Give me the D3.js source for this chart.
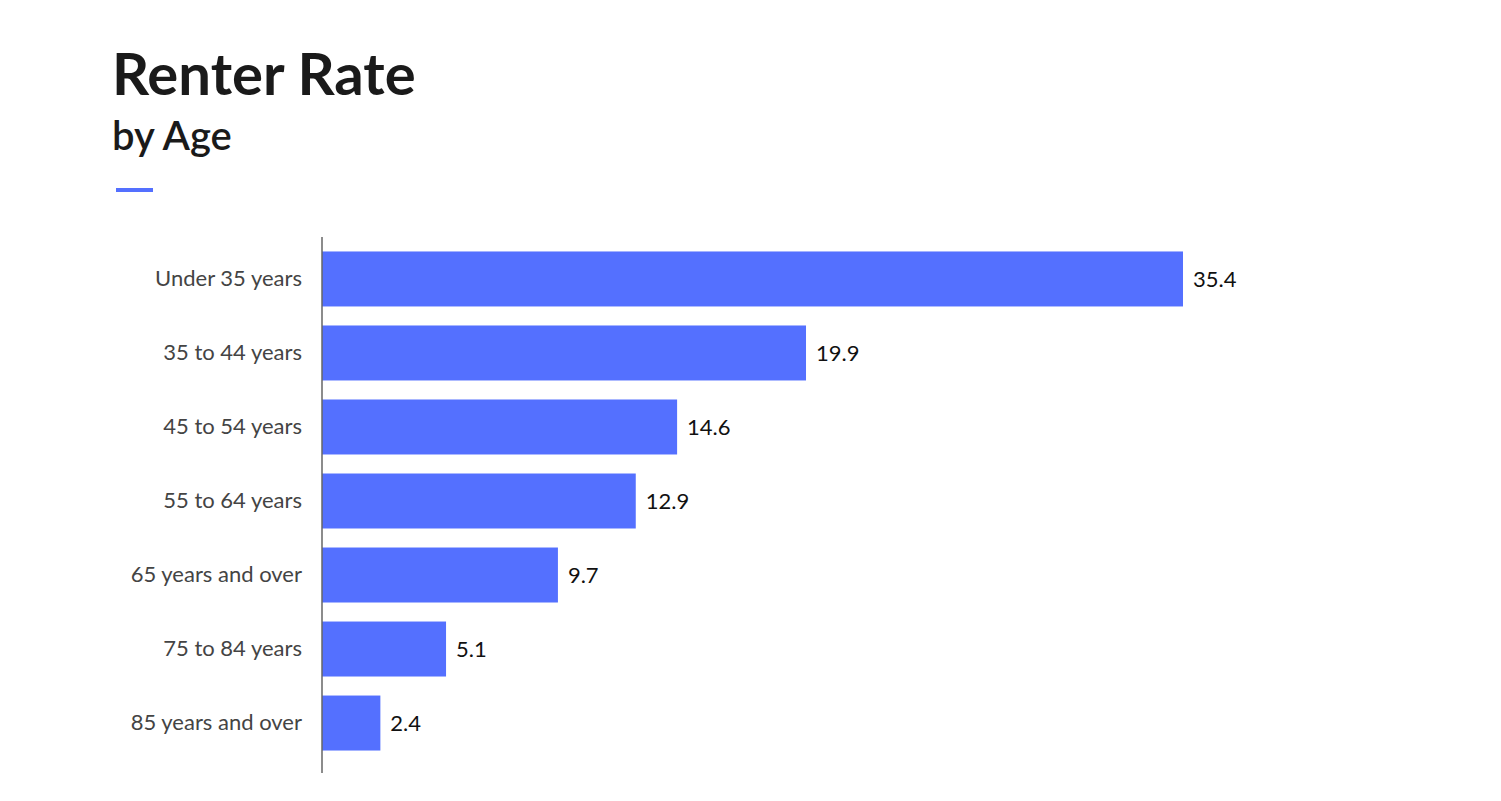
<!DOCTYPE html>
<html><head><meta charset="utf-8">
<script src="https://cdn.jsdelivr.net/npm/d3@7"></script>
<style>body{margin:0;background:#fff;font-family:Lato,sans-serif;}</style>
</head><body><div id="content"></div>
<script>
var categories = ['Under 35 years', '35 to 44 years', '45 to 54 years', '55 to 64 years',
                  '65 years and over', '75 to 84 years', '85 years and over'];
var values = [35.4, 19.9, 14.6, 12.9, 9.7, 5.1, 2.4];

var svg = d3.select('#content').append('svg').attr('width', 1501).attr('height', 801);

svg.append('text').attr('x', 112).attr('y', 95)
    .style('font-size', '58px').style('font-weight', 700).style('fill', '#1a1a1a')
    .text('Renter Rate');
svg.append('text').attr('x', 112).attr('y', 150)
    .style('font-size', '40px').style('font-weight', 600).style('fill', '#1a1a1a')
    .text('by Age');
svg.append('rect').attr('x', 116).attr('y', 188).attr('width', 37).attr('height', 4)
    .attr('fill', '#5470ff');

var x = d3.scaleLinear().domain([0, 35.4]).range([322, 1183]);
var y = d3.scaleBand().domain(categories).range([242, 760])
    .paddingInner(0.257).paddingOuter(0.128);

svg.selectAll('.bar').data(values).enter().append('rect')
    .attr('class', 'bar')
    .attr('x', x(0)).attr('y', function(d, i) { return y(categories[i]); })
    .attr('width', function(d) { return x(d) - x(0); })
    .attr('height', y.bandwidth())
    .attr('fill', '#5470ff');

svg.selectAll('.val').data(values).enter().append('text')
    .attr('x', function(d) { return x(d) + 10; })
    .attr('y', function(d, i) { return y(categories[i]) + y.bandwidth() / 2; })
    .attr('dy', '0.35em')
    .style('font-size', '22px').style('fill', '#111')
    .text(function(d) { return d.toFixed(1); });

var axis = svg.append('g').attr('transform', 'translate(322,0)')
    .call(d3.axisLeft(y).tickSize(0).tickPadding(20));
axis.select('.domain').remove();
axis.append('line').attr('y1', 237).attr('y2', 773).attr('stroke', '#666').attr('stroke-width', 1.5);
axis.selectAll('text').style('font-family', 'Lato, sans-serif')
    .style('font-size', '22px').style('fill', '#444');
</script></body></html>
